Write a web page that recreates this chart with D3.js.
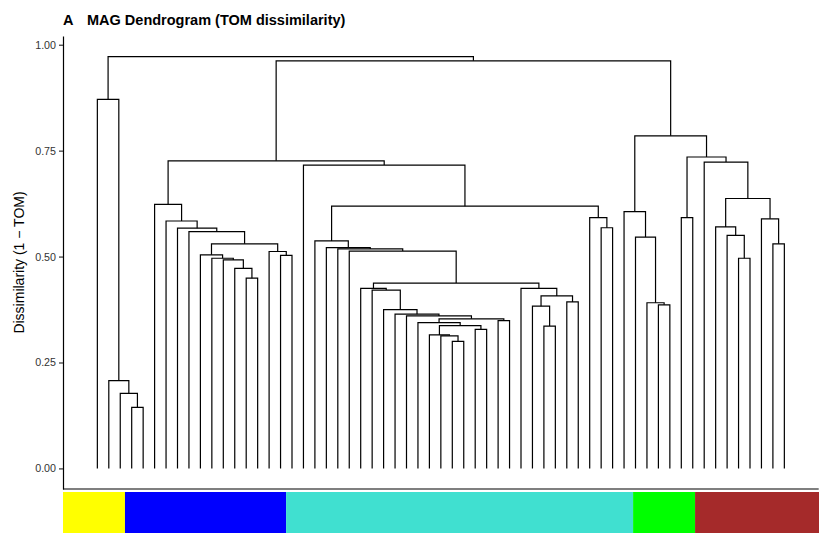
<!DOCTYPE html>
<html>
<head>
<meta charset="utf-8">
<script src="https://cdn.jsdelivr.net/npm/d3@7"></script>
<style>
  body { margin: 0; background: #fff; }
  svg { font-family: "Liberation Sans", Arial, sans-serif; }
</style>
</head>
<body>
<div id="chart"></div>
<script>
// leaves are numbered 1..61 in plotted order; merges use hclust convention
// (negative = leaf, positive = earlier merge row, 1-based)
const leafCount = 61;

const merges = [
  [-4, -5], [-3, 1], [-2, 2], [-1, 3],
  [-14, -15], [-13, 5], [-12, 6], [-11, 7], [-10, 8], [-17, -18], [-16, 10],
  [9, 11], [-9, 12], [-8, 13], [-7, 14], [-6, 15],
  [-32, -33], [-31, 17], [-30, 18], [-34, -35], [19, 20], [-29, 21], [-36, -37],
  [22, 23], [-28, 24], [-27, 25], [-26, 26], [-25, 27], [-24, 28],
  [-40, -41], [-39, 30], [-42, -43], [31, 32], [-38, 33], [29, 34],
  [-23, 35], [-22, 36], [-21, 37], [-20, 38], [-45, -46], [-44, 40], [39, 41],
  [-19, 42], [16, 43],
  [-50, -51], [-49, 45], [-48, 46], [-47, 47],
  [-57, -58], [-56, 49], [-55, 50], [-60, -61], [-59, 52], [51, 53], [-54, 54],
  [-52, -53], [56, 55], [48, 57], [44, 58], [4, 59]
];

const mergeHeights = [
  0.144, 0.177, 0.207, 0.871,
  0.449, 0.472, 0.492, 0.496, 0.504, 0.503, 0.512,
  0.530, 0.559, 0.567, 0.584, 0.623,
  0.300, 0.313, 0.315, 0.328, 0.337, 0.344, 0.349,
  0.353, 0.360, 0.364, 0.375, 0.421, 0.425,
  0.336, 0.383, 0.393, 0.407, 0.425, 0.4375,
  0.513, 0.518, 0.521, 0.537, 0.568, 0.592, 0.619,
  0.716, 0.726,
  0.386, 0.391, 0.546, 0.606,
  0.496, 0.550, 0.570, 0.530, 0.589, 0.637, 0.723,
  0.592, 0.735, 0.785, 0.962, 0.972
];

const moduleNames = ["yellow", "blue", "turquoise", "green", "brown"];
const moduleColors = ["#FFFF00", "#0000FF", "#40E0D0", "#00FF00", "#A52A2A"];
const moduleSizes = [5, 13, 28, 5, 10];

const yTicks = [0, 0.25, 0.5, 0.75, 1];

const tagText = "A";
const titleText = "MAG Dendrogram (TOM dissimilarity)";
const yLabel = "Dissimilarity (1 \u2212 TOM)";

const width = 833;
const height = 549;

const svg = d3
  .select("#chart")
  .append("svg")
  .attr("width", width)
  .attr("height", height);

// ggplot style 5% expansion on both axes
const xPad = (leafCount - 1) * 0.05;
const x = d3
  .scaleLinear()
  .domain([1 - xPad, leafCount + xPad])
  .range([63, 818.7]);

const maxH = d3.max(mergeHeights);
const yPad = maxH * 0.05;
const y = d3
  .scaleLinear()
  .domain([-yPad, maxH + yPad])
  .range([489, 36]);

// node positions: leaves evenly spaced, inner nodes at the middle of their children
const nodes = [];
const pos = (id) => (id < 0 ? { x: x(-id), y: y(0) } : nodes[id - 1]);

merges.forEach((m, i) => {
  const a = pos(m[0]);
  const b = pos(m[1]);
  nodes.push({ x: (a.x + b.x) / 2, y: y(mergeHeights[i]), a, b });
});

svg
  .append("g")
  .attr("fill", "none")
  .attr("stroke", "#000")
  .attr("stroke-width", 1.2)
  .selectAll("path")
  .data(nodes)
  .enter()
  .append("path")
  .attr("d", (d) => `M${d.a.x},${d.a.y}V${d.y}H${d.b.x}V${d.b.y}`);

// y axis
const yAxis = svg
  .append("g")
  .attr("transform", `translate(${x.range()[0]},0)`)
  .call(
    d3
      .axisLeft(y)
      .tickValues(yTicks)
      .tickFormat(d3.format(".2f"))
      .tickSize(4)
      .tickSizeOuter(0)
      .tickPadding(3)
  );

yAxis.select(".domain").attr("stroke", "#000").attr("stroke-width", 1.2);
yAxis.selectAll(".tick line").attr("stroke", "#333").attr("stroke-width", 1.2);
yAxis
  .selectAll(".tick text")
  .attr("fill", "#333")
  .attr("font-size", 10.7)
  .attr("font-family", "Liberation Sans, Arial, sans-serif");

// x axis line (no ticks, no labels)
svg
  .append("line")
  .attr("x1", x.range()[0])
  .attr("x2", x.range()[1])
  .attr("y1", y.range()[0])
  .attr("y2", y.range()[0])
  .attr("stroke", "#000")
  .attr("stroke-width", 1.2);

// module colour bar
const xBar = d3
  .scaleLinear()
  .domain([0.5, leafCount + 0.5])
  .range([63, 819]);

const starts = [0, ...d3.cumsum(moduleSizes)];

svg
  .append("g")
  .selectAll("rect")
  .data(moduleNames)
  .enter()
  .append("rect")
  .attr("x", (d, i) => xBar(starts[i] + 0.5))
  .attr("width", (d, i) => xBar(starts[i + 1] + 0.5) - xBar(starts[i] + 0.5))
  .attr("y", 492)
  .attr("height", 41)
  .attr("fill", (d, i) => moduleColors[i]);

// labels
const midY = (y.range()[0] + y.range()[1]) / 2;

svg
  .append("text")
  .attr("x", 20)
  .attr("y", midY)
  .attr("transform", `rotate(-90, 20, ${midY})`)
  .attr("text-anchor", "middle")
  .attr("dominant-baseline", "middle")
  .attr("font-size", 14)
  .attr("fill", "#000")
  .text(yLabel);

svg
  .append("text")
  .attr("x", 63)
  .attr("y", 25)
  .attr("font-size", 14.5)
  .attr("font-weight", "bold")
  .text(tagText);

svg
  .append("text")
  .attr("x", 87)
  .attr("y", 25)
  .attr("font-size", 14.5)
  .attr("font-weight", "bold")
  .text(titleText);
</script>
</body>
</html>
